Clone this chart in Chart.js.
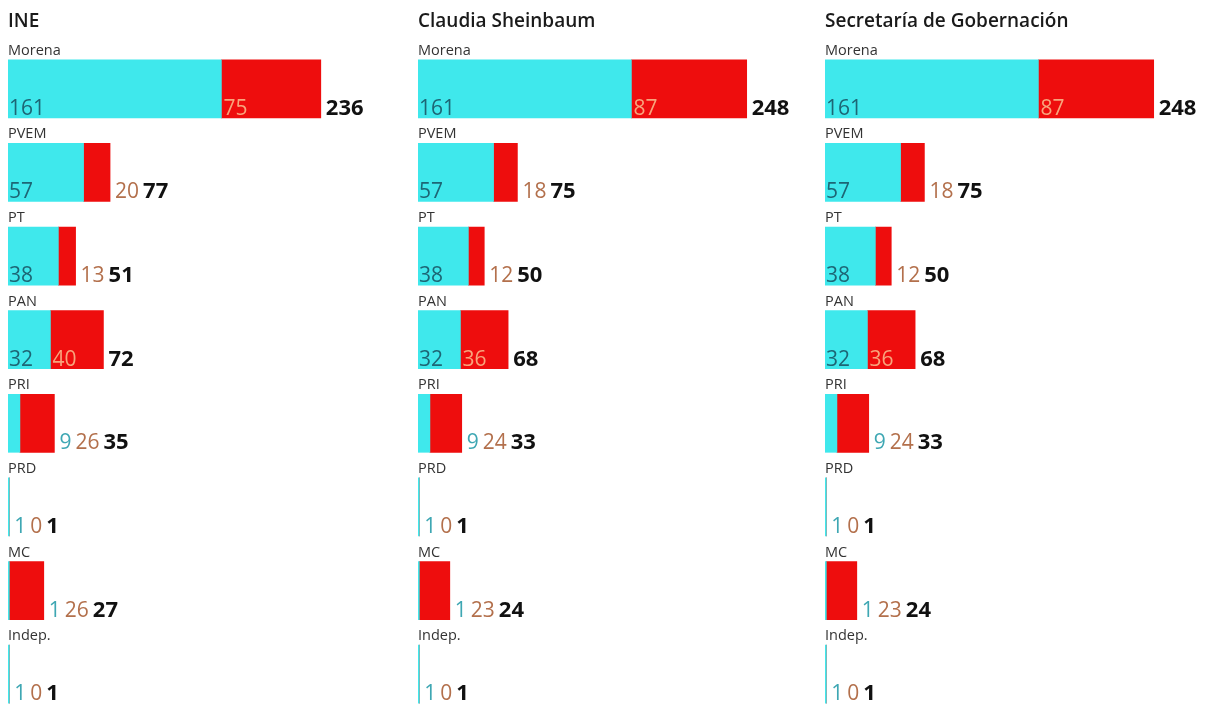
<!DOCTYPE html>
<html>
<head>
<meta charset="utf-8">
<script src="https://cdn.jsdelivr.net/npm/chart.js@4.4.1/dist/chart.umd.min.js"></script>
<style>
  html, body { margin: 0; padding: 0; background: #fff; }
  body { width: 1216px; height: 711px; overflow: hidden; position: relative; }
  .panel { position: absolute; top: 0; }
</style>
</head>
<body>
<div class="panel" style="left:0px"><canvas id="chartIne" width="399" height="716"></canvas></div>
<div class="panel" style="left:410px"><canvas id="chartCsp" width="399" height="716"></canvas></div>
<div class="panel" style="left:817px"><canvas id="chartSegob" width="399" height="716"></canvas></div>
<script>
// parties, in the order they are listed
var partidos = ['Morena', 'PVEM', 'PT', 'PAN', 'PRI', 'PRD', 'MC', 'Indep.'];
var titulos = ['INE', 'Claudia Sheinbaum', 'Secretaría de Gobernación'];

// seats by relative majority (cyan), same in all three sources
var mayoria = [161, 57, 38, 32, 9, 1, 1, 1];

// plurinominal seats (red) by source
var pluriIne = [75, 20, 13, 40, 26, 0, 26, 0];
var pluriCsp = [87, 18, 12, 36, 24, 0, 23, 0];
var pluriSegob = [87, 18, 12, 36, 24, 0, 23, 0];

var CYAN = '#3fe8ec';
var RED = '#ee0d0d';
var FONT = '"Open Sans", "Noto Sans", sans-serif';

// draws title, party names and the value labels next to / inside each bar
var etiquetas = {
    id: 'etiquetas',
    afterDatasetsDraw: function(chart, args, opts) {
        var ctx = chart.ctx;
        var area = chart.chartArea;
        var metaA = chart.getDatasetMeta(0);
        var metaB = chart.getDatasetMeta(1);
        var dsA = chart.data.datasets[0].data;
        var dsB = chart.data.datasets[1].data;

        ctx.save();
        ctx.textBaseline = 'alphabetic';
        ctx.textAlign = 'left';

        ctx.font = '600 19px ' + FONT;
        ctx.fillStyle = '#1a1a1a';
        ctx.fillText(opts.titulo, area.left, 27);

        chart.data.labels.forEach(function(lab, i) {
            var a = metaA.data[i].getProps(['x', 'y', 'base', 'height'], true);
            var b = metaB.data[i].getProps(['x', 'y', 'base', 'height'], true);
            var top = a.y - a.height / 2;
            var bottom = a.y + a.height / 2;
            var base = bottom - 3;

            ctx.font = '14.5px ' + FONT;
            ctx.fillStyle = '#333';
            ctx.fillText(lab, area.left, top - 5);

            var fuera = [];
            ctx.font = '21px ' + FONT;

            var tA = String(dsA[i]);
            var wA = ctx.measureText(tA).width;
            if (a.x - a.base >= wA + 4) {
                ctx.fillStyle = '#1d6675';
                ctx.fillText(tA, a.base + 1, base);
            } else {
                fuera.push({ t: tA, c: '#3ea7b3', f: '21px ' + FONT });
            }

            var tB = String(dsB[i]);
            var wB = ctx.measureText(tB).width;
            if (b.x - b.base >= wB + 12) {
                ctx.fillStyle = '#f8a47c';
                ctx.fillText(tB, b.base + 2, base);
            } else {
                fuera.push({ t: tB, c: '#b3704c', f: '21px ' + FONT });
            }

            fuera.push({ t: String(dsA[i] + dsB[i]), c: '#111', f: 'bold 22px ' + FONT });

            var x = Math.max(a.x, b.x) + 5;
            fuera.forEach(function(o) {
                ctx.font = o.f;
                ctx.fillStyle = o.c;
                ctx.fillText(o.t, x, base);
                x += ctx.measureText(o.t).width + 4;
            });
        });
        ctx.restore();
    }
};

function panel(id, titulo, pluri) {
    return new Chart(document.getElementById(id), {
        type: 'bar',
        data: {
            labels: partidos,
            datasets: [
                { label: 'Mayoría', data: mayoria, backgroundColor: CYAN, barThickness: 58 },
                { label: 'Plurinominal', data: pluri, backgroundColor: RED, barThickness: 58 }
            ]
        },
        options: {
            indexAxis: 'y',
            responsive: false,
            animation: false,
            layout: { padding: { left: 8, right: 0, top: 47, bottom: 0 } },
            scales: {
                x: { stacked: true, min: 0, max: 295, display: false },
                y: { stacked: true, display: false }
            },
            plugins: {
                legend: { display: false },
                tooltip: { enabled: false },
                etiquetas: { titulo: titulo }
            }
        },
        plugins: [etiquetas]
    });
}

panel('chartIne', titulos[0], pluriIne);
panel('chartCsp', titulos[1], pluriCsp);
panel('chartSegob', titulos[2], pluriSegob);
</script>
</body>
</html>
